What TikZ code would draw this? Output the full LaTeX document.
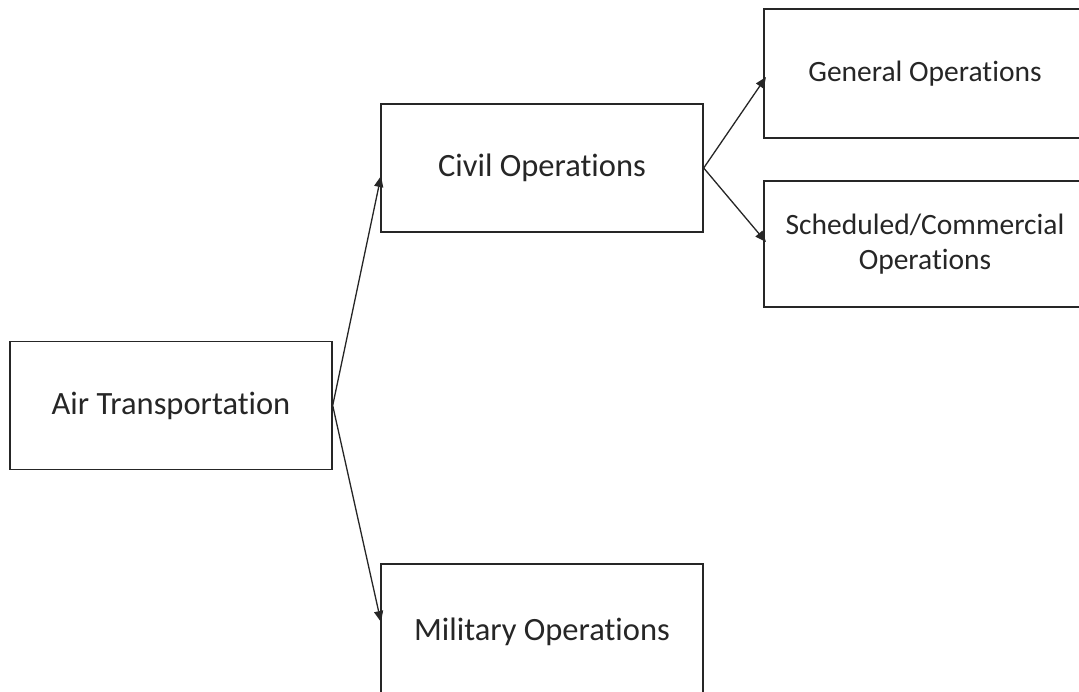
\documentclass[tikz,border=0pt]{standalone}
\usepackage{fontspec}
\setmainfont[Ligatures={NoCommon}]{Carlito}
\usetikzlibrary{arrows.meta}
\begin{document}
\begin{tikzpicture}[x=1pt,y=-1pt,
  box/.style={draw=black!85,line width=1.4pt,minimum width=322pt,minimum height=128pt,inner sep=0pt,align=center,
    font=\fontsize{32.5}{36}\selectfont,text=black!85},
  small/.style={font=\fontsize{29.5}{35}\selectfont},
  arr/.style={draw=black!85,line width=1.3pt,-{Triangle[length=11pt,width=9pt]}}]
\useasboundingbox (0,0) rectangle (1079,692);
\fill[white] (0,0) rectangle (1079,692);
\clip (0,0) rectangle (1079,692);
\node[box] (air) at (171,405.5) {Air Transportation};
\node[box] (civil) at (542,168) {Civil Operations};
\node[box,minimum height=136pt] (mil) at (542,632) {Military Operations};
\node[box,small,minimum height=129pt] (gen) at (925,73.5) {General Operations};
\node[box,small,minimum height=126pt] (sched) at (925,244) {Scheduled/Commercial\\Operations};
\coordinate (c1) at (381,176);
\coordinate (c2) at (381,622);
\coordinate (c3) at (766,77);
\coordinate (c4) at (766,242);
\draw[arr] (air.east) -- (c1);
\draw[arr] (air.east) -- (c2);
\draw[arr] (civil.east) -- (c3);
\draw[arr] (civil.east) -- (c4);
\end{tikzpicture}
\end{document}
